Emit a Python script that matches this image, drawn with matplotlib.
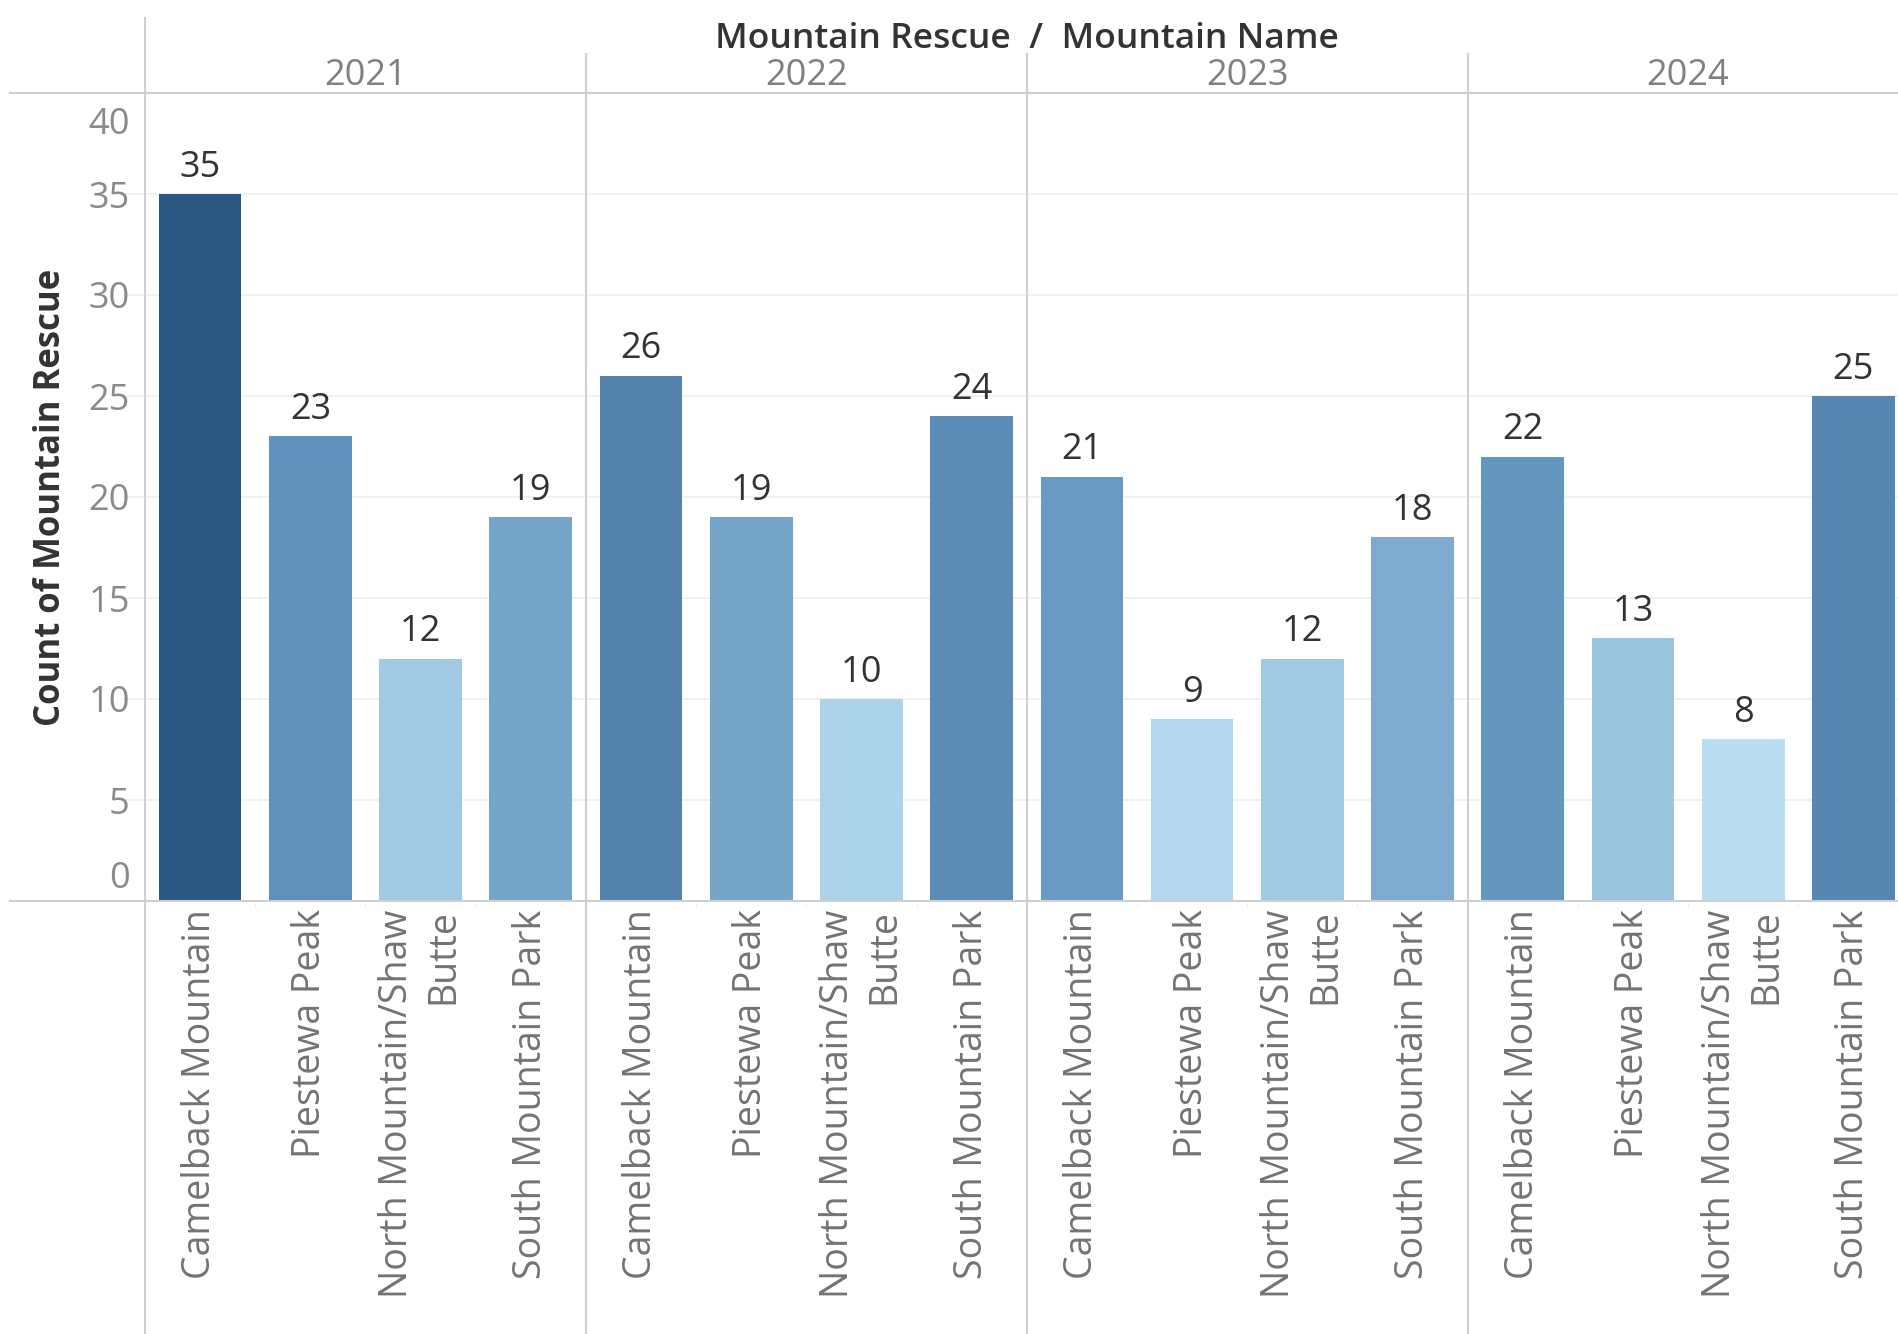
import matplotlib.pyplot as plt
import matplotlib.transforms as mtransforms
from matplotlib.colors import LinearSegmentedColormap, Normalize
import numpy as np

years = ['2021', '2022', '2023', '2024']
mountains = ['Camelback Mountain', 'Piestewa Peak', 'North Mountain/Shaw\nButte', 'South Mountain Park']
rescues_2021 = [35, 23, 12, 19]
rescues_2022 = [26, 19, 10, 24]
rescues_2023 = [21, 9, 12, 18]
rescues_2024 = [22, 13, 8, 25]
y_ticks = [0, 5, 10, 15, 20, 25, 30, 35, 40]

font = ['Open Sans', 'DejaVu Sans']

values = rescues_2021 + rescues_2022 + rescues_2023 + rescues_2024
n_slots = len(values)
x = np.arange(n_slots) + 0.5

# Tableau-like sequential blue, lightest at min count, darkest at max
cmap = LinearSegmentedColormap.from_list('tab_blue', ['#b9ddf1', '#6798c1', '#2a5783'])
norm = Normalize(vmin=min(values), vmax=max(values))
colors = [cmap(norm(v)) for v in values]

fig = plt.figure(figsize=(18.99, 13.34), dpi=100)
ax = fig.add_axes([145 / 1899, 1 - 901 / 1334, 1 - 145 / 1899, (901 - 93) / 1334])

ax.bar(x, values, width=0.75, color=colors, zorder=3)
for xi, v in zip(x, values):
    ax.annotate(str(v), (xi, v), xytext=(0, 6), textcoords='offset points',
                ha='center', va='bottom', fontsize=26, color='#333333', family=font)

slot_w = 440.8 / 4
ax.set_xlim(0, (1899 - 145.3) / slot_w)
ax.set_ylim(0, 40)

# y axis ticks and light gridlines
ax.set_yticks(y_ticks)
ax.set_yticklabels([str(t) for t in y_ticks], fontsize=26, color='#8a8a8a', family=font)
ax.tick_params(axis='y', length=0, pad=11)
for t in y_ticks[1:-1]:
    ax.axhline(t, xmin=-0.012, xmax=1, color='#efefef', lw=1.2, zorder=1, clip_on=False)
labels = ax.get_yticklabels()
labels[0].set_va('bottom')
labels[0].set_transform(labels[0].get_transform()
                        + mtransforms.ScaledTranslation(0, 0.04, fig.dpi_scale_trans))
labels[-1].set_va('top')
labels[-1].set_transform(labels[-1].get_transform()
                         + mtransforms.ScaledTranslation(0, -0.14, fig.dpi_scale_trans))

ax.set_xticks(x)
ax.set_xticklabels(mountains * len(years), rotation=90, ha='center', va='top',
                   multialignment='right', linespacing=1.28, fontsize=27,
                   color='#737373', family=font)
ax.tick_params(axis='x', length=0, pad=6)
ax.set_xticks(np.arange(1, n_slots), minor=True)
ax.tick_params(axis='x', which='minor', length=5, color='#eeeeee')

for s in ax.spines.values():
    s.set_visible(False)

# table frame lines
line_c = '#d0d0d0'
ax.axhline(40, xmin=-0.077, xmax=1, color=line_c, lw=1.5, clip_on=False, zorder=4)
ax.axhline(0, xmin=-0.077, xmax=1, color=line_c, lw=1.5, clip_on=False, zorder=4)
ax.axvline(0, ymin=-0.54, ymax=1.093, color=line_c, lw=1.5, clip_on=False, zorder=4)
for i in range(1, len(years)):
    ax.axvline(i * 4, ymin=-0.54, ymax=1.048, color=line_c, lw=1.5, clip_on=False, zorder=4)

trans = mtransforms.blended_transform_factory(ax.transData, ax.transAxes)
for i, yr in enumerate(years):
    ax.text(i * 4 + 2, 1.021, yr, transform=trans, ha='center', va='center',
            fontsize=26, color='#808080', family=font)
ax.text(8, 1.067, 'Mountain Rescue  /  Mountain Name', transform=trans, ha='center', va='center',
        fontsize=25.5, color='#333333', family=font, fontweight='semibold')

ax.text(-0.0536, 0.5, 'Count of Mountain Rescue', transform=ax.transAxes, rotation=90,
        ha='center', va='center', fontsize=25, color='#333333', family=font, fontweight='bold')

fig.savefig('out.png', dpi=100)
